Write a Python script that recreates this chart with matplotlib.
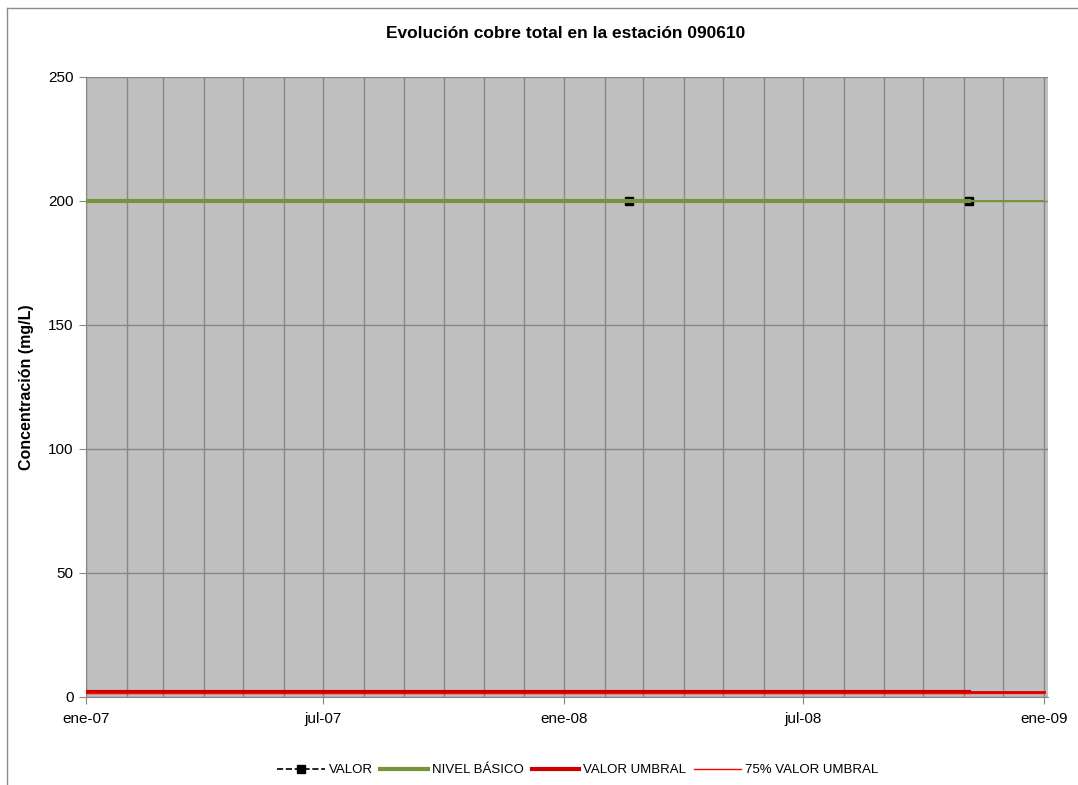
import matplotlib
matplotlib.use("Agg")
import matplotlib.pyplot as plt
import matplotlib.dates as mdates
from matplotlib.lines import Line2D
import pandas as pd

# ===================== DATA =====================
valor_fechas = ["2008-02-19", "2008-11-05"]
valor = [200, 200]

linea_fechas = ["2007-01-01", "2008-02-19", "2008-11-05"]
cola_fechas = ["2008-11-05", "2009-01-01"]
nivel_basico = 200
valor_umbral = 2.0
umbral_75 = 1.5

meses = {1: "ene", 7: "jul"}

plt.rcParams["font.family"] = ["Liberation Sans", "DejaVu Sans"]

fig = plt.figure(figsize=(10.78, 7.85), dpi=100)
ax = fig.add_axes([86 / 1078, 1 - 697 / 785, (1048 - 86) / 1078, (697 - 77) / 785])
ax.set_facecolor("#C0C0C0")

d_linea = pd.to_datetime(linea_fechas)
d_cola = pd.to_datetime(cola_fechas)
d_valor = pd.to_datetime(valor_fechas)

# VALOR series (under the other lines)
ax.plot(d_valor, valor, color="black", linestyle="--", marker="s",
        markersize=6, linewidth=1.2, zorder=3)

# NIVEL BASICO
ax.plot(d_linea, [nivel_basico] * len(d_linea), color="#77933C", linewidth=3, zorder=4)
ax.plot(d_cola, [nivel_basico] * len(d_cola), color="#77933C", linewidth=1.5, zorder=4)

# VALOR UMBRAL
ax.plot(d_linea, [valor_umbral] * len(d_linea), color="#CC0000", linewidth=3, zorder=4)
ax.plot(d_cola, [valor_umbral] * len(d_cola), color="#CC0000", linewidth=2, zorder=4)

# 75% VALOR UMBRAL
ax.plot(pd.to_datetime(["2007-01-01", "2009-01-01"]), [umbral_75] * 2,
        color="#FF0000", linewidth=1, zorder=5)

ax.set_xlim(pd.Timestamp("2007-01-01"), pd.Timestamp("2009-01-04"))
ax.set_ylim(0, 250)
ax.set_yticks(range(0, 251, 50))

ax.xaxis.set_major_locator(mdates.MonthLocator(bymonth=[1, 7]))
ax.xaxis.set_minor_locator(mdates.MonthLocator())
ax.xaxis.set_major_formatter(
    plt.FuncFormatter(lambda v, p: "%s-%s" % (meses[mdates.num2date(v).month],
                                             mdates.num2date(v).strftime("%y")))
)

ax.grid(True, which="both", axis="x", color="#878787", linewidth=1)
ax.grid(True, which="major", axis="y", color="#878787", linewidth=1)
ax.set_axisbelow(True)

for s in ["top", "right"]:
    ax.spines[s].set_visible(False)
ax.spines["left"].set_color("#878787")
ax.spines["bottom"].set_color("#878787")

ax.tick_params(axis="x", which="major", length=5, color="#878787", pad=6, labelsize=11)
ax.tick_params(axis="x", which="minor", length=0)
ax.tick_params(axis="y", length=5, color="#878787", labelsize=11, pad=4)

ax.set_ylabel("Concentración (mg/L)", fontsize=11.5, fontweight="bold", labelpad=10)
fig.text(0.525, 1 - 34 / 785, "Evolución cobre total en la estación 090610",
         ha="center", va="center", fontsize=12.5, fontweight="bold")

# outer chart frame
fig.add_artist(Line2D([7 / 1078, 7 / 1078], [0, 1 - 8 / 785], transform=fig.transFigure,
                      color="#8C8C8C", linewidth=1))
fig.add_artist(Line2D([7 / 1078, 1], [1 - 8 / 785, 1 - 8 / 785], transform=fig.transFigure,
                      color="#8C8C8C", linewidth=1))

handles = [
    Line2D([], [], color="black", linestyle="--", marker="s", markersize=6, linewidth=1.2),
    Line2D([], [], color="#77933C", linewidth=3),
    Line2D([], [], color="#CC0000", linewidth=3),
    Line2D([], [], color="#FF0000", linewidth=1),
]
labels = ["VALOR", "NIVEL BÁSICO", "VALOR UMBRAL", "75% VALOR UMBRAL"]
fig.legend(handles, labels, loc="center", bbox_to_anchor=(0.536, 1 - 770 / 785),
           ncol=4, frameon=False, fontsize=9.5, handlelength=3.6, handletextpad=0.3,
           columnspacing=0.6)

fig.savefig("out.png", dpi=100)
